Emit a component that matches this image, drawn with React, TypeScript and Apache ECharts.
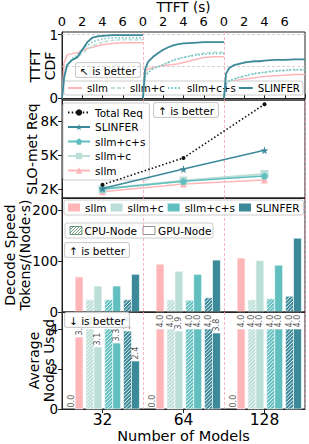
import React, { useEffect, useRef } from 'react';
import * as echarts from 'echarts';

const FONT = 'DejaVu Sans';
const CATEGORIES = ['32', '64', '128'];
const METHODS = ['sllm', 'sllm+c', 'sllm+c+s', 'SLINFER'];
const COLORS = ['#FFB6B9', '#BBDED6', '#61C0BF', '#3C8A99'];

// ---- TTFT CDF (time in seconds; one block per model count) ----
const TTFT_T = [0, 0.2, 0.5, 1, 1.5, 2, 2.5, 3, 3.5, 4, 5, 6, 7, 8];
const CDF_32 = [
  [0, 0.55, 0.68, 0.7, 0.71, 0.75, 0.78, 0.8, 0.82, 0.84, 0.86, 0.87, 0.87, 0.87],
  [0, 0.3, 0.5, 0.6, 0.64, 0.7, 0.77, 0.82, 0.85, 0.88, 0.91, 0.92, 0.92, 0.92],
  [0, 0.3, 0.52, 0.62, 0.67, 0.76, 0.83, 0.88, 0.91, 0.93, 0.95, 0.95, 0.95, 0.95],
  [0, 0.32, 0.52, 0.6, 0.64, 0.76, 0.88, 0.95, 0.97, 0.98, 0.99, 0.99, 0.99, 0.99],
];
const CDF_64 = [
  [0, 0.42, 0.46, 0.48, 0.5, 0.51, 0.52, 0.53, 0.54, 0.56, 0.6, 0.64, 0.65, 0.65],
  [0, 0.35, 0.42, 0.47, 0.5, 0.53, 0.56, 0.59, 0.62, 0.64, 0.68, 0.71, 0.72, 0.72],
  [0, 0.33, 0.4, 0.46, 0.49, 0.52, 0.56, 0.6, 0.62, 0.64, 0.67, 0.69, 0.7, 0.7],
  [0, 0.45, 0.57, 0.65, 0.71, 0.76, 0.8, 0.83, 0.85, 0.86, 0.87, 0.88, 0.88, 0.88],
];
const CDF_128 = [
  [0, 0.2, 0.25, 0.27, 0.29, 0.3, 0.31, 0.32, 0.33, 0.34, 0.35, 0.36, 0.37, 0.37],
  [0, 0.22, 0.27, 0.3, 0.32, 0.34, 0.36, 0.38, 0.39, 0.4, 0.42, 0.43, 0.44, 0.44],
  [0, 0.22, 0.27, 0.3, 0.33, 0.35, 0.37, 0.39, 0.4, 0.41, 0.43, 0.44, 0.45, 0.45],
  [0, 0.38, 0.47, 0.52, 0.54, 0.56, 0.57, 0.58, 0.58, 0.59, 0.6, 0.6, 0.61, 0.61],
];
const CDF_BLOCKS = [CDF_32, CDF_64, CDF_128];
const TTFT_TICKS_PER_BLOCK = 8;

// ---- SLO-met requests ----
const TOTAL_REQ = [2380, 4760, 9520];
const SLO_SLLM = [1760, 2450, 2800];
const SLO_SLLM_C = [1980, 2750, 3330];
const SLO_SLLM_CS = [2000, 2680, 3150];
const SLO_SLINFER = [2050, 3770, 5430];

// ---- Decode speed (tokens / node / s): CPU node, GPU node ----
const DECODE_CPU = [
  [0, 0, 0],
  [24, 24, 24],
  [24, 23, 26],
  [24, 28, 31],
];
const DECODE_GPU = [
  [69, 94, 106],
  [51, 80, 101],
  [51, 74, 92],
  [74, 102, 145],
];

// ---- Average nodes used: CPU node, GPU node ----
const NODES_CPU = [
  [0.0, 0.0, 0.0],
  [4.0, 4.0, 4.0],
  [4.0, 4.0, 4.0],
  [3.9, 4.0, 4.0],
];
const NODES_GPU = [
  [3.6, 4.0, 4.0],
  [3.1, 3.9, 4.0],
  [3.3, 4.0, 4.0],
  [2.4, 3.8, 4.0],
];

const AXIS_COLOR = '#222';
const TICK_FONT = 13.5;
const NAME_FONT = 14;
const LEG_FONT = 10.5;
const DIV_PINK = '#F5A3B3';

function baseGrid(top: number, height: number) {
  return {
    left: 62,
    right: 4,
    top,
    height,
    show: true,
    borderColor: AXIS_COLOR,
    borderWidth: 1,
    backgroundColor: 'transparent',
    containLabel: false,
    outerBoundsMode: 'none',
  };
}

function yAxisBase(min: number, max: number, ticks: number[], name: string, nameGap: number, fmt?: (v: number) => string) {
  const label: any = { customValues: ticks, fontSize: TICK_FONT, color: '#000', fontFamily: FONT, margin: 4 };
  if (fmt) label.formatter = fmt;
  return {
    type: 'value',
    min,
    max,
    axisLine: { show: true, lineStyle: { color: AXIS_COLOR, width: 1 } },
    axisTick: { show: true, length: 4, customValues: ticks, lineStyle: { color: AXIS_COLOR } },
    axisLabel: label,
    splitLine: { show: false },
    name,
    nameLocation: 'middle',
    nameGap,
    nameRotate: 90,
    nameMoveOverlap: false,
    nameTextStyle: { fontSize: NAME_FONT, color: '#000', fontFamily: FONT, lineHeight: 15 },
  };
}

function catAxis(showLabels: boolean) {
  return {
    type: 'category',
    data: CATEGORIES,
    boundaryGap: true,
    axisLine: { show: true, lineStyle: { color: AXIS_COLOR } },
    axisTick: { show: showLabels, alignWithLabel: true, length: 4, lineStyle: { color: AXIS_COLOR } },
    axisLabel: { show: showLabels, fontSize: 15.5, color: '#000', fontFamily: FONT, margin: 3 },
    splitLine: { show: true, interval: 0, lineStyle: { color: DIV_PINK, type: [3, 2], width: 0.8 } },
  };
}

function betterBox(x: number, y: number, text: string) {
  return {
    type: 'text',
    x,
    y,
    z: 5,
    style: {
      text,
      fontSize: LEG_FONT,
      fontFamily: FONT,
      fill: '#000',
      backgroundColor: 'rgba(255,255,255,0.85)',
      borderColor: '#cccccc',
      borderWidth: 1,
      borderRadius: 2,
      padding: [2, 4, 1, 4],
      align: 'left',
      verticalAlign: 'top',
    },
  };
}

function hatchLines(x: number, y: number, w: number, h: number, sp: number, color: string, lw: number) {
  const out: any[] = [];
  const start = Math.ceil((x + y) / sp) * sp;
  for (let c = start; c < x + w + y + h; c += sp) {
    const xa = Math.max(x, c - (y + h));
    const xb = Math.min(x + w, c - y);
    if (xb - xa > 0.2) {
      out.push({ type: 'line', shape: { x1: xa, y1: c - xa, x2: xb, y2: c - xb }, style: { stroke: color, lineWidth: lw } });
    }
  }
  return out;
}

function barRenderer(m: number, color: string, withLabels: boolean) {
  return (_params: any, api: any) => {
    const cat = api.value(0);
    const cpu = api.value(1);
    const gpu = api.value(2);
    const band = api.size([1, 0])[0];
    const base = api.coord([cat, 0]);
    const barW = band * 0.098;
    const step = band * 0.232;
    const pc = base[0] + (m - 1.5) * step + band * 0.01;
    const children: any[] = [];
    const bars = [
      { v: cpu, x: pc - barW, hatch: true },
      { v: gpu, x: pc, hatch: false },
    ];
    bars.forEach((b) => {
      const top = api.coord([cat, b.v])[1];
      const h = base[1] - top;
      if (h > 0.01) {
        children.push({ type: 'rect', shape: { x: b.x, y: top, width: barW, height: h }, style: { fill: color, stroke: '#fff', lineWidth: 0.6 } });
        if (b.hatch) children.push(...hatchLines(b.x + 0.3, top + 0.3, barW - 0.6, h - 0.3, 3.6, '#ffffff', 0.9));
      }
      if (withLabels) {
        children.push({
          type: 'text',
          x: b.x + barW / 2,
          y: top - 1.5,
          rotation: Math.PI / 2,
          z2: 20,
          style: { text: Number(b.v).toFixed(1), fontSize: 8, fontFamily: FONT, fill: '#555', align: 'left', verticalAlign: 'middle' },
        });
      }
    });
    return { type: 'group', children };
  };
}

function barSeries(cpuArr: number[][], gpuArr: number[][], withLabels: boolean) {
  return METHODS.map((name, m) => ({
    type: 'custom',
    name,
    itemStyle: { color: COLORS[m] },
    encode: { x: 0, y: [1, 2] },
    data: CATEGORIES.map((_c, i) => [i, cpuArr[m][i], gpuArr[m][i]]),
    renderItem: barRenderer(m, COLORS[m], withLabels),
  }));
}

function buildPanel1() {
  const lineStyles: any[] = [
    { color: COLORS[0], width: 1.5, type: 'solid' },
    { color: COLORS[1], width: 1.5, type: [4, 2] },
    { color: COLORS[2], width: 1.5, type: [1.5, 2] },
    { color: COLORS[3], width: 1.8, type: 'solid' },
  ];
  const series: any[] = [];
  CDF_BLOCKS.forEach((block, bi) => {
    block.forEach((vals, m) => {
      series.push({
        type: 'line',
        name: METHODS[m],
        symbol: 'none',
        showSymbol: false,
        z: 3 + m,
        lineStyle: lineStyles[m],
        itemStyle: { color: COLORS[m] },
        data: TTFT_T.map((t, k) => [t + bi * TTFT_TICKS_PER_BLOCK, vals[k]]),
      });
    });
  });
  series[0].markLine = {
    silent: true,
    symbol: 'none',
    label: { show: false },
    data: [
      { xAxis: 8, lineStyle: { color: DIV_PINK, type: [3, 2], width: 0.8 } },
      { xAxis: 16, lineStyle: { color: DIV_PINK, type: [3, 2], width: 0.8 } },
      { yAxis: 0.5, lineStyle: { color: '#c8c8c8', type: [3, 2], width: 0.8 } },
      { yAxis: 1, lineStyle: { color: '#c8c8c8', type: [3, 2], width: 0.8 } },
    ],
  };
  return {
    animation: false,
    textStyle: { fontFamily: FONT },
    grid: baseGrid(32, 68),
    xAxis: {
      type: 'value',
      position: 'top',
      min: 0,
      max: 24,
      interval: 2,
      axisLine: { show: true, lineStyle: { color: AXIS_COLOR } },
      axisTick: { show: true, length: 4, lineStyle: { color: AXIS_COLOR } },
      axisLabel: {
        fontSize: 13,
        lineHeight: 13,
        color: '#000',
        fontFamily: FONT,
        margin: 4,
        formatter: (v: number) => (v >= 24 ? '' : String(v % TTFT_TICKS_PER_BLOCK)),
      },
      splitLine: { show: false },
      name: 'TTFT (s)',
      nameLocation: 'middle',
      nameGap: 18,
      nameMoveOverlap: false,
      nameTextStyle: { fontSize: 13.5, lineHeight: 14, color: '#000', fontFamily: FONT },
    },
    yAxis: yAxisBase(-0.03, 1.04, [0, 1], 'TTFT\nCDF', 5),
    legend: {
      left: 64,
      top: 81,
      width: 250,
      orient: 'horizontal',
      data: METHODS,
      itemWidth: 14,
      itemHeight: 8,
      itemGap: 2,
      padding: [2, 3],
      borderColor: '#cccccc',
      borderWidth: 1,
      borderRadius: 2,
      backgroundColor: 'rgba(255,255,255,0.85)',
      itemStyle: { opacity: 0 },
      textStyle: { fontSize: 10.2, color: '#000', fontFamily: FONT },
    },
    graphic: [betterBox(76, 63, '↖ is better')],
    series,
  };
}

function buildPanel2() {
  const star = 'path://M50,0 L61,35 L98,35 L68,57 L79,91 L50,70 L21,91 L32,57 L2,35 L39,35 Z';
  const pentagon = 'path://M50,0 L98,35 L79,91 L21,91 L2,35 Z';
  const mk = (name: string, data: number[], color: string, symbol: string, size: number, width: number, z: number) => ({
    type: 'line',
    name,
    data,
    symbol,
    symbolSize: size,
    z,
    lineStyle: { color, width },
    itemStyle: { color },
  });
  return {
    animation: false,
    textStyle: { fontFamily: FONT },
    grid: baseGrid(100, 98),
    xAxis: catAxis(false),
    yAxis: yAxisBase(1200, 9900, [2000, 5000, 8000], 'SLO-met Req', 23, (v: number) => `${v / 1000}K`),
    legend: {
      left: 63,
      top: 103,
      orient: 'vertical',
      data: ['Total Req', 'SLINFER', 'sllm+c+s', 'sllm+c', 'sllm'],
      itemWidth: 22,
      itemHeight: 8,
      itemGap: 3.5,
      padding: [4, 4],
      borderColor: '#cccccc',
      borderWidth: 1,
      borderRadius: 2,
      backgroundColor: 'rgba(255,255,255,0.85)',
      textStyle: { fontSize: LEG_FONT, color: '#000', fontFamily: FONT },
    },
    graphic: [betterBox(154, 103, '↑ is better')],
    series: [
      mk('sllm', SLO_SLLM, COLORS[0], 'triangle', 7, 1.5, 3),
      mk('sllm+c', SLO_SLLM_C, COLORS[1], 'rect', 8, 2.2, 4),
      mk('sllm+c+s', SLO_SLLM_CS, COLORS[2], pentagon, 7, 1.5, 5),
      mk('SLINFER', SLO_SLINFER, COLORS[3], star, 8, 1.5, 6),
      {
        type: 'line',
        name: 'Total Req',
        data: TOTAL_REQ,
        symbol: 'circle',
        symbolSize: 4,
        z: 7,
        lineStyle: { color: '#111', width: 1.6, type: [1.5, 2.2] },
        itemStyle: { color: '#111' },
      },
    ],
  };
}

function buildPanel3() {
  const cpuLegColor = '#4E7F63';
  return {
    animation: false,
    textStyle: { fontFamily: FONT },
    grid: baseGrid(198, 114),
    xAxis: catAxis(false),
    yAxis: yAxisBase(0, 224, [0, 100, 200], 'Decode Speed\nTokens/(Node·s)', 30),
    legend: {
      left: 64,
      top: 200,
      orient: 'horizontal',
      data: METHODS,
      icon: 'rect',
      itemWidth: 12,
      itemHeight: 8,
      itemGap: 4,
      padding: [2, 4],
      borderColor: '#cccccc',
      borderWidth: 1,
      borderRadius: 2,
      backgroundColor: 'rgba(255,255,255,0.85)',
      textStyle: { fontSize: LEG_FONT, color: '#000', fontFamily: FONT },
    },
    graphic: [
      {
        type: 'group',
        x: 65,
        y: 223,
        z: 5,
        children: [
          { type: 'rect', shape: { x: 0, y: 0, width: 148, height: 15, r: 2 }, style: { fill: 'rgba(255,255,255,0.85)', stroke: '#cccccc', lineWidth: 1 } },
          { type: 'rect', shape: { x: 5, y: 3.5, width: 12, height: 8 }, style: { fill: '#fff', stroke: cpuLegColor, lineWidth: 0.8 } },
          ...hatchLines(5, 3.5, 12, 8, 3, cpuLegColor, 0.8),
          { type: 'text', x: 19.5, y: 8, style: { text: 'CPU-Node', fontSize: LEG_FONT, fontFamily: FONT, fill: '#000', align: 'left', verticalAlign: 'middle' } },
          { type: 'rect', shape: { x: 78, y: 3.5, width: 12, height: 8 }, style: { fill: '#fff', stroke: '#777', lineWidth: 0.8 } },
          { type: 'text', x: 93, y: 8, style: { text: 'GPU-Node', fontSize: LEG_FONT, fontFamily: FONT, fill: '#000', align: 'left', verticalAlign: 'middle' } },
        ],
      },
      betterBox(65, 243, '↑ is better'),
    ],
    series: barSeries(DECODE_CPU, DECODE_GPU, false),
  };
}

function buildPanel4() {
  const xa: any = catAxis(true);
  xa.name = 'Number of Models';
  xa.nameLocation = 'middle';
  xa.nameGap = 19;
  xa.nameMoveOverlap = false;
  xa.nameTextStyle = { fontSize: 14.5, color: '#000', fontFamily: FONT };
  return {
    animation: false,
    textStyle: { fontFamily: FONT },
    grid: baseGrid(1, 97),
    xAxis: xa,
    yAxis: yAxisBase(0, 4.85, [0, 2, 4], 'Average\nNodes Used', 6),
    graphic: [betterBox(65, 2, '↓ is better')],
    series: barSeries(NODES_CPU, NODES_GPU, true),
  };
}

export default function App() {
  const r1 = useRef<HTMLDivElement>(null);
  const r2 = useRef<HTMLDivElement>(null);
  const r3 = useRef<HTMLDivElement>(null);
  const r4 = useRef<HTMLDivElement>(null);

  useEffect(() => {
    const charts: any[] = [];
    const pairs: [HTMLDivElement | null, any][] = [
      [r1.current, buildPanel1()],
      [r2.current, buildPanel2()],
      [r3.current, buildPanel3()],
      [r4.current, buildPanel4()],
    ];
    pairs.forEach(([el, opt]) => {
      if (!el) return;
      const c = echarts.init(el, undefined, { renderer: 'svg' });
      c.setOption(opt);
      charts.push(c);
    });
    return () => charts.forEach((c) => c.dispose());
  }, []);

  const full: React.CSSProperties = { position: 'absolute', left: 0, top: 0, width: 309, height: 444 };
  return (
    <div style={{ position: 'fixed', left: 0, top: 0, width: 309, height: 444, background: '#fff', overflow: 'hidden' }}>
      <div ref={r1} style={full} />
      <div ref={r2} style={full} />
      <div ref={r3} style={full} />
      <div ref={r4} style={{ position: 'absolute', left: 0, top: 311, width: 309, height: 133, overflow: 'hidden' }} />
    </div>
  );
}
